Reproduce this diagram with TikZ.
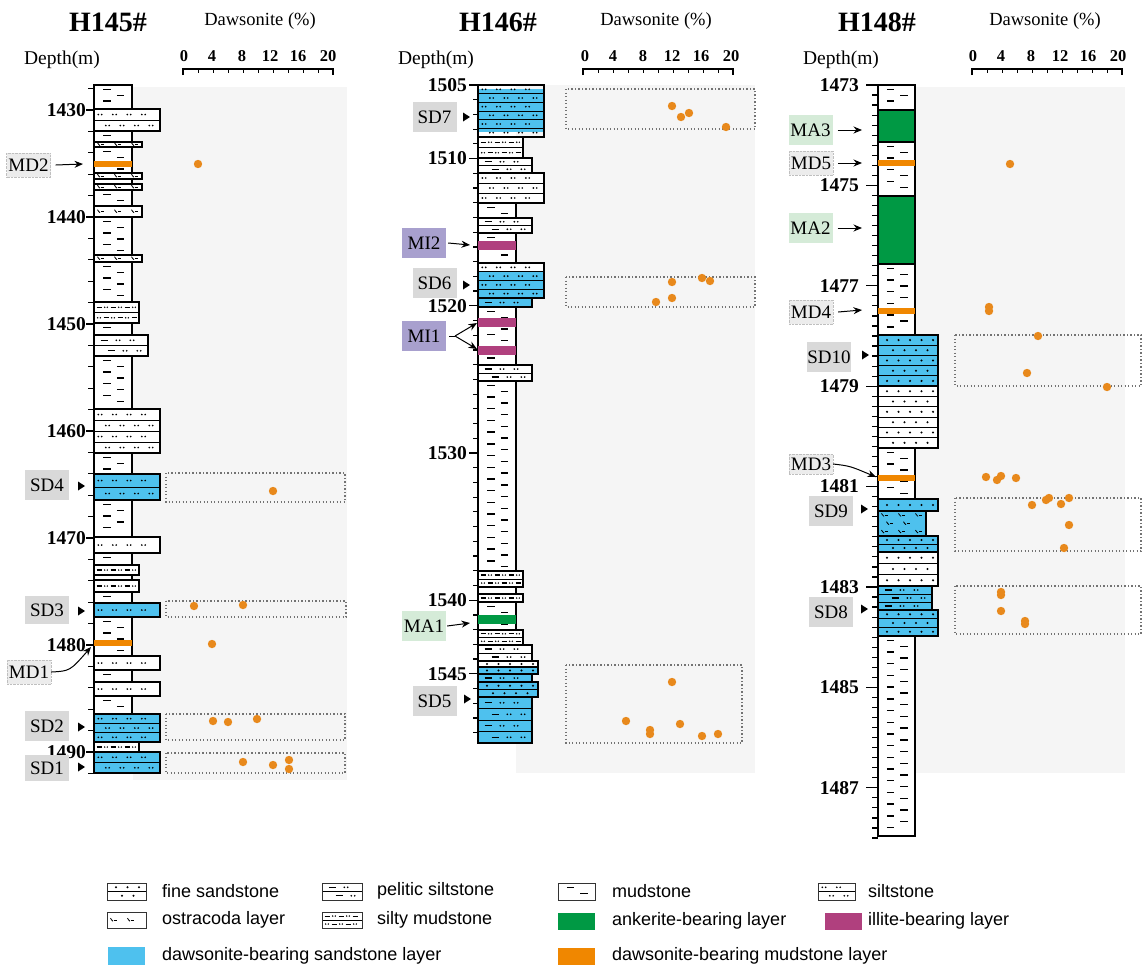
\documentclass[tikz,border=0pt]{standalone}
\usepackage{fontspec}
\setmainfont{Liberation Serif}
\newfontfamily\lsans{Liberation Sans}
\usetikzlibrary{arrows.meta}
\definecolor{dblue}{RGB}{78,193,238}
\definecolor{ank}{RGB}{0,153,68}
\definecolor{ill}{RGB}{176,64,126}
\definecolor{dmud}{RGB}{240,135,0}
\definecolor{ptc}{RGB}{232,137,28}
\definecolor{panel}{RGB}{245,245,245}
\definecolor{sdbox}{RGB}{217,217,217}
\definecolor{mibox}{RGB}{168,160,206}
\definecolor{mabox}{RGB}{213,235,216}
\definecolor{mdbox}{RGB}{236,236,236}
\newif\ifrowsep \rowseptrue
% ---------- lithology patterns ----------
\newcommand{\patsilt}[4]{%
  \pgfmathsetmacro{\ofs}{(mod(#4,2)==1) ? 6 : 13.5}%
  \pgfmathtruncatemacro{\cn}{(#2-#1-\ofs-3)/14.5}%
  \foreach \kk in {0,...,\cn}{%
    \pgfmathsetmacro{\cx}{#1+\ofs+\kk*14.5}%
    \fill (\cx-1.7,#3) circle (0.95) (\cx+1.7,#3) circle (0.95);}}
\newcommand{\patsand}[4]{%
  \pgfmathsetmacro{\ofs}{(mod(#4,2)==1) ? 9 : 15}%
  \pgfmathtruncatemacro{\cn}{(#2-#1-\ofs-4)/11.5}%
  \foreach \kk in {0,...,\cn}{%
    \pgfmathsetmacro{\cx}{#1+\ofs+\kk*11.5}%
    \fill (\cx,#3) circle (1.15);}}
\newcommand{\patpel}[4]{%
  \pgfmathsetmacro{\ofs}{(mod(#4,2)==1) ? 10 : 17}%
  \pgfmathtruncatemacro{\cn}{(#2-#1-\ofs-3)/14}%
  \foreach \kk in {0,...,\cn}{%
    \pgfmathsetmacro{\cx}{#1+\ofs+\kk*14}%
    \ifnum\kk=0 \draw[dl] (\cx-3.5,#3) -- (\cx+3.5,#3);
    \else \fill (\cx-1.7,#3) circle (0.95) (\cx+1.7,#3) circle (0.95);\fi}}
\newcommand{\patsmud}[4]{%
  \pgfmathtruncatemacro{\cn}{(#2-#1-5-4)/7}%
  \foreach \kk in {0,...,\cn}{%
    \pgfmathsetmacro{\cx}{#1+5+\kk*7}%
    \pgfmathtruncatemacro{\ty}{mod(\kk+#4,2)}%
    \ifnum\ty=1 \draw[dl] (\cx-2.5,#3) -- (\cx+2.5,#3);
    \else \fill (\cx-1.3,#3) circle (0.8) (\cx+1.3,#3) circle (0.8);\fi}}
\newcommand{\patostra}[4]{%
  \pgfmathsetmacro{\ofs}{(mod(#4,2)==1) ? 6 : 11}%
  \pgfmathtruncatemacro{\cn}{(#2-#1-\ofs-6)/17}%
  \foreach \kk in {0,...,\cn}{%
    \pgfmathsetmacro{\cx}{#1+\ofs+\kk*17}%
    \draw[line width=0.8pt] (\cx-2.5,#3-1.8) .. controls (\cx-0.5,#3-1.8) and (\cx-2.5,#3+1.5) .. (\cx,#3+1.2);
    \draw[line width=0.9pt] (\cx+1,#3) -- (\cx+3.5,#3);}}
\newcommand{\patnone}[4]{}
% type, x0, x1, y0, y1, rows, fill
\newcommand{\layer}[7]{%
  \path[fill=#7] (#2,#4) rectangle (#3,#5);
  \pgfmathsetmacro{\rh}{(#5-#4)/#6}%
  \foreach \rr in {1,...,#6}{%
    \pgfmathsetmacro{\ry}{#4+(\rr-0.5)*\rh}%
    \pgfmathsetmacro{\rt}{#4+(\rr-1)*\rh}%
    \ifrowsep\ifnum\rr>1 \draw[rowline] (#2,\rt) -- (#3,\rt);\fi\fi
    \csname pat#1\endcsname{#2}{#3}{\ry}{\rr}%
  }%
  \draw[col] (#2,#4) rectangle (#3,#5);}
\newcommand{\mud}[4]{%
  \path[fill=white] (#1,#3) rectangle (#2,#4);
  \pgfmathsetmacro{\mw}{#2-#1}%
  \pgfmathtruncatemacro{\mn}{(#4-#3-2)/5.85}%
  \ifnum\mn>0
  \foreach \kk in {1,...,\mn}{%
    \pgfmathsetmacro{\yy}{#3+\kk*5.85-1.5}%
    \pgfmathsetmacro{\xa}{#1+((mod(\kk,2)==1) ? 0.24 : 0.6)*\mw}%
    \draw[mdl2] (\xa,\yy) -- ++(0.2*\mw,0);}%
  \fi
  \draw[col] (#1,#3) rectangle (#2,#4);}
\newcommand{\band}[5]{\fill[#5] (#1,#3) rectangle (#2,#4);}
\newcommand{\solid}[5]{\path[fill=#5] (#1,#3) rectangle (#2,#4); \draw[col] (#1,#3) rectangle (#2,#4);}
\newcommand{\tri}[2]{\fill ({#1},{#2-4.5}) -- ({#1+7},{#2}) -- ({#1},{#2+4.5}) -- cycle;}
\newcommand{\datpt}[2]{\fill[ptc] (#1,#2) circle (4.2);}
\newcommand{\dawaxis}[2]{%
  \draw[line width=1.3pt] (#1,75) -- (#1,69) -- (#2,69) -- (#2,75);
  \foreach \ii in {1,...,9} \draw[line width=1pt] ({#1+\ii*(#2-#1)/10},69) -- ++(0,4);}
\newcommand{\ticks}[5]{%
  \foreach \ii in {0,...,#5} \draw[line width=1.2pt] (#1,{#3+\ii*#4}) -- (#2,{#3+\ii*#4});}
\begin{document}
\begin{tikzpicture}[x=1pt,y=-1pt,
  col/.style={line width=1.8pt,draw=black},
  rowline/.style={line width=1pt},
  dl/.style={line width=1.2pt},
  mdl2/.style={line width=1.4pt},
  lab/.style={font=\fontsize{19}{19}\selectfont,inner sep=0pt,minimum width=44pt,minimum height=30pt},
  sdl/.style={lab,fill=sdbox},
  mil/.style={lab,fill=mibox},
  mal/.style={lab,fill=mabox},
  mdl/.style={lab,fill=mdbox,draw=black!25,densely dotted,minimum height=24pt},
  dep/.style={font=\bfseries\fontsize{19.5}{19.5}\selectfont,anchor=east,inner sep=0pt},
  ttl/.style={font=\bfseries\fontsize{28}{28}\selectfont,inner sep=0pt},
  hdr/.style={font=\fontsize{18.5}{18.5}\selectfont,inner sep=0pt},
  axn/.style={font=\bfseries\fontsize{16.5}{16.5}\selectfont,inner sep=0pt},
  leg/.style={font=\lsans\fontsize{18}{18}\selectfont,anchor=west,inner sep=0pt},
  arr/.style={-{Stealth[length=8.5pt,width=7pt]},line width=1pt},
  dbox/.style={draw=black!55,line width=1.3pt,dash pattern=on 1.3pt off 2.2pt}]
\useasboundingbox (0,0) rectangle (1143,967);
\fill[white] (0,0) rectangle (1143,967);
% panels
\fill[panel] (133,87) rectangle (347,780);
\fill[panel] (516,85) rectangle (755,773);
\fill[panel] (915,87) rectangle (1125,773);
% headers
\node[ttl] (t145) at (108,22) {H145\#};
\node[ttl] (t146) at (498,22) {H146\#};
\node[ttl] (t148) at (877,22) {H148\#};
\node[hdr] (h145) at (260,21) {Dawsonite (\%)};
\node[hdr] (h146) at (656,21) {Dawsonite (\%)};
\node[hdr] (h148) at (1045,21) {Dawsonite (\%)};
\node[hdr,font=\fontsize{19.5}{19.5}\selectfont] (dm145) at (62,60) {Depth(m)};
\node[hdr,font=\fontsize{19.5}{19.5}\selectfont] (dm146) at (436,60) {Depth(m)};
\node[hdr,font=\fontsize{19.5}{19.5}\selectfont] (dm148) at (841,60) {Depth(m)};
% axes
\dawaxis{183}{333}
\dawaxis{583}{733}
\dawaxis{972}{1122}
\foreach \v/\xx [count=\i] in {0/184,4/212,8/242,12/270,16/298,20/328}{\node[axn] (a145-\i) at (\xx,56) {\v};}
\foreach \v/\xx [count=\i] in {0/585,4/613,8/643,12/672,16/701,20/731}{\node[axn] (a146-\i) at (\xx,56) {\v};}
\foreach \v/\xx [count=\i] in {0/973,4/1001,8/1031,12/1060,16/1088,20/1118}{\node[axn] (a148-\i) at (\xx,56) {\v};}
% ================= H145 =================
\ticks{88}{94}{88.6}{21.4}{32}
\foreach \d/\yy in {1430/110,1440/217,1450/324,1460/431,1470/538,1480/645,1490/752}{
  \draw[line width=1.2pt] (86,\yy) -- (94,\yy);
  \node[dep] (d\d) at (86,\yy) {\d};}
\mud{94}{132}{85}{109}
\layer{silt}{94}{160}{109}{131}{2}{white}
\mud{94}{132}{131}{142}
\layer{ostra}{94}{142}{142}{147}{1}{white}
\mud{94}{132}{147}{173}
\band{94}{132}{161}{167}{dmud}
\layer{ostra}{94}{142}{173}{179}{1}{white}
\mud{94}{132}{179}{184}
\layer{ostra}{94}{142}{184}{190}{1}{white}
\mud{94}{132}{190}{206}
\layer{ostra}{94}{142}{206}{217}{1}{white}
\mud{94}{132}{217}{255}
\layer{ostra}{94}{142}{255}{262}{1}{white}
\mud{94}{132}{262}{302}
\layer{smud}{94}{139}{302}{323}{2}{white}
\mud{94}{132}{323}{335}
\layer{pel}{94}{148}{335}{356}{2}{white}
\mud{94}{132}{356}{409}
\layer{silt}{94}{160}{409}{453}{4}{white}
\mud{94}{132}{453}{474}
\layer{silt}{94}{160}{474}{500}{2}{dblue}
\mud{94}{132}{500}{537}
\layer{silt}{94}{160}{537}{553}{1}{white}
\mud{94}{132}{553}{565}
\layer{smud}{94}{139}{565}{575}{1}{white}
\mud{94}{132}{575}{580}
\layer{smud}{94}{139}{580}{592}{1}{white}
\mud{94}{132}{592}{603}
\layer{silt}{94}{160}{603}{617}{1}{dblue}
\mud{94}{132}{617}{656}
\band{94}{132}{640}{646}{dmud}
\layer{silt}{94}{160}{656}{670}{1}{white}
\mud{94}{132}{670}{682}
\layer{silt}{94}{160}{682}{696}{1}{white}
\mud{94}{132}{696}{714}
\layer{silt}{94}{160}{714}{742}{3}{dblue}
\layer{smud}{94}{139}{742}{752}{1}{white}
\layer{silt}{94}{160}{752}{773}{2}{dblue}
% labels H145
\node[mdl] (md2) at (28.5,165) {MD2};
\coordinate (md2t) at (83,164);
\draw[arr] ([xshift=5pt]md2.east) -- (md2t);
\node[sdl] (sd4) at (47,485) {SD4}; \tri{78}{486}
\node[sdl,minimum height=28pt] (sd3) at (47,610) {SD3}; \tri{78}{611}
\node[mdl] (md1) at (29,672) {MD1};
\coordinate (md1t) at (91,647);
\draw[arr] (md1.east) .. controls (70,671) .. (md1t);
\node[sdl] (sd2) at (47,726) {SD2}; \tri{78}{727}
\node[sdl,minimum height=26pt] (sd1) at (47,768) {SD1}; \tri{78}{767}
% data H145
\datpt{198}{164}
\draw[dbox] (166,473) rectangle (345,502);
\datpt{273}{491}
\draw[dbox] (166,601) rectangle (346,617);
\datpt{194}{606} \datpt{243}{605}
\datpt{212}{644}
\draw[dbox] (166,714) rectangle (345,740);
\datpt{213}{721} \datpt{228}{722} \datpt{257}{719}
\draw[dbox] (166,753) rectangle (345,773);
\datpt{243}{762} \datpt{273}{765} \datpt{289}{760} \datpt{289}{769}
% ================= H146 =================
\ticks{473}{478}{85}{14.72}{44}
\foreach \d/\yy in {1505/85,1510/158.6,1520/305.8,1530/453,1540/600.2,1545/673.8}{
  \draw[line width=1.2pt] (469,\yy) -- (478,\yy);
  \node[dep] (d\d) at (467,\yy) {\d};}
\path[fill=dblue] (478,89) rectangle (544,132);
\layer{silt}{478}{544}{85}{137}{6}{none}
\layer{smud}{478}{523}{137}{158}{2}{white}
\layer{pel}{478}{532}{158}{173}{2}{white}
\layer{silt}{478}{544}{173}{203}{3}{white}
\mud{478}{516}{203}{218}
\layer{pel}{478}{532}{218}{233}{2}{white}
\mud{478}{516}{233}{263}
\band{478}{516}{241}{250}{ill}
\path[fill=white] (478,263) rectangle (544,272);
\path[fill=dblue] (478,272) rectangle (544,298);
\layer{silt}{478}{544}{263}{298}{4}{none}
\layer{pel}{478}{532}{298}{307}{1}{dblue}
\mud{478}{516}{307}{365}
\band{478}{516}{318}{327}{ill}
\band{478}{516}{346}{355}{ill}
\layer{pel}{478}{532}{365}{381}{2}{white}
\mud{478}{516}{381}{571}
\layer{smud}{478}{523}{571}{587}{2}{white}
\mud{478}{516}{587}{594}
\layer{smud}{478}{523}{594}{602}{1}{white}
\mud{478}{516}{602}{630}
\band{478}{516}{615}{624}{ank}
\layer{smud}{478}{523}{630}{645}{2}{white}
\layer{pel}{478}{532}{645}{661}{2}{white}
\layer{sand}{478}{538}{661}{667}{1}{white}
\layer{sand}{478}{538}{667}{674}{1}{dblue}
\layer{pel}{478}{532}{674}{682}{1}{dblue}
\layer{sand}{478}{538}{682}{697}{2}{dblue}
\layer{pel}{478}{532}{697}{743}{4}{dblue}
% labels H146
\node[sdl] (sd7) at (434.5,117) {SD7}; \tri{463}{117}
\node[mil] (mi2) at (424,243) {MI2};
\coordinate (mi2t) at (470,245);
\draw[arr] ([xshift=2pt]mi2.east) -- (mi2t);
\node[sdl] (sd6) at (434.5,283) {SD6}; \tri{463}{285}
\node[mil] (mi1) at (424,336) {MI1};
\coordinate (mi1f) at (455,336);
\coordinate (mi1a) at (477,323);
\coordinate (mi1b) at (477,349);
\draw[line width=1pt] (mi1.east) ++(3pt,0) -- (mi1f);
\draw[arr] (mi1f) -- (mi1a);
\draw[arr] (mi1f) -- (mi1b);
\node[mal] (ma1) at (424,626) {MA1};
\coordinate (ma1t) at (470,623);
\draw[arr] ([xshift=1pt]ma1.east) -- (ma1t);
\node[sdl] (sd5) at (434.5,701) {SD5}; \tri{464}{699}
% data H146
\draw[dbox] (566,89) rectangle (755,129);
\datpt{672}{106} \datpt{681}{117} \datpt{689}{113} \datpt{726}{127}
\draw[dbox] (566,277) rectangle (755,307);
\datpt{672}{282} \datpt{702}{278} \datpt{710}{281} \datpt{672}{298} \datpt{656}{302}
\draw[dbox] (566,665) rectangle (742,743);
\datpt{672}{682} \datpt{626}{721} \datpt{650}{730} \datpt{650}{734} \datpt{680}{724} \datpt{702}{736} \datpt{718}{734}
% ================= H148 =================
\ticks{872}{878}{85}{10.04}{75}
\foreach \d/\yy in {1473/85,1475/185.4,1477/285.8,1479/386.2,1481/486.6,1483/587,1485/687.4,1487/787.8}{
  \draw[line width=1.2pt] (866,\yy) -- (878,\yy);
  \node[dep] (d\d) at (859,\yy) {\d};}
\mud{878}{915}{85}{110}
\solid{878}{915}{110}{142}{ank}
\mud{878}{915}{142}{196}
\band{878}{915}{160}{166}{dmud}
\solid{878}{915}{196}{264}{ank}
\mud{878}{915}{264}{335}
\band{878}{915}{308}{314}{dmud}
\layer{sand}{878}{938}{335}{386}{5}{dblue}
\layer{sand}{878}{938}{386}{448}{6}{white}
\mud{878}{915}{448}{499}
\band{878}{915}{475}{481}{dmud}
\layer{sand}{878}{938}{499}{511}{1}{dblue}
\rowsepfalse
\layer{ostra}{878}{926}{511}{536}{3}{dblue}
\rowseptrue
\layer{sand}{878}{938}{536}{552}{2}{dblue}
\layer{sand}{878}{938}{552}{586}{3}{white}
\layer{pel}{878}{932}{586}{610}{3}{dblue}
\layer{sand}{878}{938}{610}{636}{3}{dblue}
\mud{878}{915}{636}{836}
% labels H148
\node[mal] (ma3) at (810.5,130) {MA3};
\coordinate (ma3t) at (862,130);
\draw[arr] ([xshift=5pt]ma3.east) -- (ma3t);
\node[mdl] (md5) at (811,163) {MD5};
\coordinate (md5t) at (862,163);
\draw[arr] ([xshift=5pt]md5.east) -- (md5t);
\node[mal] (ma2) at (810.5,228) {MA2};
\coordinate (ma2t) at (862,228);
\draw[arr] ([xshift=5pt]ma2.east) -- (ma2t);
\node[mdl] (md4) at (811,312) {MD4};
\coordinate (md4t) at (862,310);
\draw[arr] ([xshift=5pt]md4.east) -- (md4t);
\node[sdl] (sd10) at (829,357) {SD10}; \tri{862}{355}
\node[mdl,minimum height=20pt] (md3) at (811,464) {MD3};
\coordinate (md3t) at (876,477);
\draw[arr] (md3.east) .. controls (850,466) .. (md3t);
\node[sdl] (sd9) at (831,511) {SD9}; \tri{861}{509}
\node[sdl] (sd8) at (831,612) {SD8}; \tri{861}{609}
% data H148
\datpt{1010}{164}
\datpt{989}{307} \datpt{989}{311}
\draw[dbox] (955,335) rectangle (1141,386);
\datpt{1038}{336} \datpt{1027}{373} \datpt{1107}{387}
\datpt{986}{477} \datpt{997}{480} \datpt{1001}{476} \datpt{1016}{478}
\draw[dbox] (955,498) rectangle (1141,551);
\datpt{1032}{505} \datpt{1046}{500} \datpt{1049}{498} \datpt{1061}{504} \datpt{1069}{498} \datpt{1069}{525} \datpt{1064}{548}
\draw[dbox] (955,586) rectangle (1141,634);
\datpt{1001}{592} \datpt{1001}{595} \datpt{1001}{611} \datpt{1025}{621} \datpt{1025}{624}
% ================= legend =================
\begin{scope}[col/.style={line width=0.9pt,draw=black!80},rowline/.style={line width=0.6pt},dl/.style={line width=0.9pt},mdl2/.style={line width=1pt}]
\layer{sand}{107}{146}{883}{900}{2}{white}
\node[leg] (l1) at (162,891) {fine sandstone};
\layer{pel}{322}{362}{883}{900}{2}{white}
\node[leg] (l2) at (377,891) {pelitic siltstone};
\mud{558}{595}{883}{900}
\node[leg] (l3) at (612,891) {mudstone};
\layer{silt}{818}{855}{883}{900}{2}{white}
\node[leg] (l4) at (868,891) {siltstone};
\layer{ostra}{107}{146}{912}{928}{1}{white}
\node[leg] (l5) at (162,920) {ostracoda layer};
\layer{smud}{322}{362}{912}{928}{2}{white}
\node[leg] (l6) at (377,920) {silty mudstone};
\end{scope}
\fill[ank] (558,913) rectangle (595,930);
\node[leg] (l7) at (612,921) {ankerite-bearing layer};
\fill[ill] (825,913) rectangle (862,930);
\node[leg] (l8) at (868,921) {illite-bearing layer};
\fill[dblue] (108,947) rectangle (145,965);
\node[leg] (l9) at (162,956) {dawsonite-bearing sandstone layer};
\fill[dmud] (558,948) rectangle (595,965);
\node[leg] (l10) at (612,956) {dawsonite-bearing mudstone layer};
\end{tikzpicture}
\end{document}
